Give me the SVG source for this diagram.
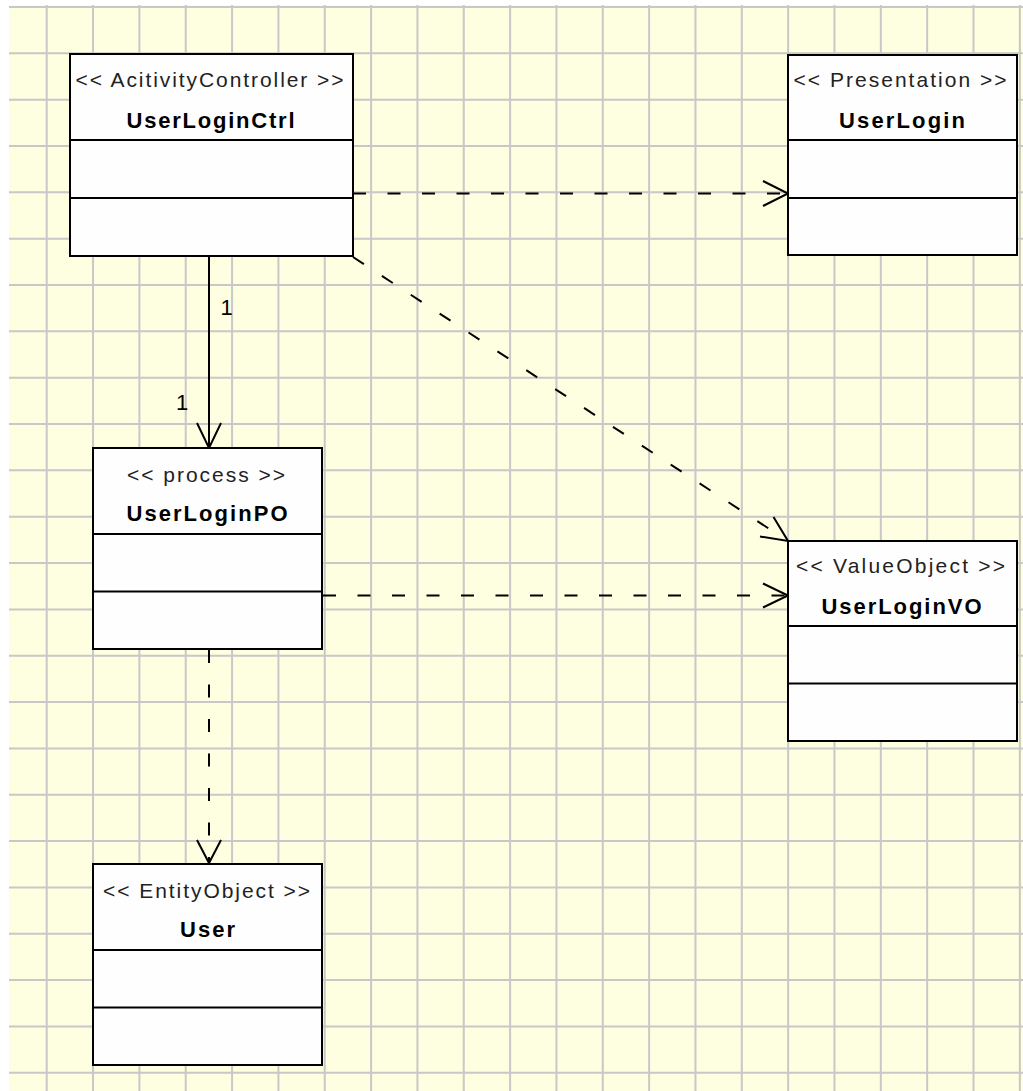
<svg xmlns="http://www.w3.org/2000/svg" width="1023" height="1091" viewBox="0 0 1023 1091">
<defs>
<style>
.grid{stroke:#c8c8c8;stroke-width:2;fill:none}
.box{fill:#fefefe;stroke:#000;stroke-width:2}
.div{stroke:#000;stroke-width:2}
.st{font-family:"Liberation Sans",Arial,sans-serif;font-size:21px;fill:#222;text-anchor:middle}
.nm{font-family:"Liberation Sans",Arial,sans-serif;font-size:22px;font-weight:bold;fill:#000;text-anchor:middle}
.dash{stroke:#000;stroke-width:2;stroke-dasharray:13 21.5;fill:none}
.solid{stroke:#000;stroke-width:2;fill:none}
.head{stroke:#000;stroke-width:2;fill:none}
.lbl{font-family:"Liberation Sans",Arial,sans-serif;font-size:22px;fill:#000;text-anchor:middle}
</style>
</defs>
<rect x="0" y="0" width="1023" height="1091" fill="#ffffff"/>
<rect x="9" y="5" width="1014" height="1086" fill="#fefee0"/>
<g id="grid" class="grid">
<path d="M46.7,5V1091M93.04,5V1091M139.38,5V1091M185.72,5V1091M232.06,5V1091M278.4,5V1091M324.74,5V1091M371.08,5V1091M417.42,5V1091M463.76,5V1091M510.1,5V1091M556.44,5V1091M602.78,5V1091M649.12,5V1091M695.46,5V1091M741.8,5V1091M788.14,5V1091M834.48,5V1091M880.82,5V1091M927.16,5V1091M973.5,5V1091M1019.84,5V1091"/>
<path d="M9,6.96H1023M9,53.3H1023M9,99.64H1023M9,145.98H1023M9,192.32H1023M9,238.66H1023M9,285H1023M9,331.34H1023M9,377.68H1023M9,424.02H1023M9,470.36H1023M9,516.7H1023M9,563.04H1023M9,609.38H1023M9,655.72H1023M9,702.06H1023M9,748.4H1023M9,794.74H1023M9,841.08H1023M9,887.42H1023M9,933.76H1023M9,980.1H1023M9,1026.44H1023M9,1072.78H1023"/>
</g>
<g id="connectors">
<line class="dash" x1="353" y1="193.5" x2="787" y2="193.5"/>
<path class="head" d="M763,181 L788,193.5 L763,206"/>
<line class="dash" x1="353" y1="257" x2="787" y2="540.5"/>
<path class="head" d="M760,536.5 L788,541 L773.5,517"/>
<line class="solid" x1="209" y1="256" x2="209" y2="447"/>
<path class="head" d="M197,423 L209,448 L221,423"/>
<text class="lbl" x="226.5" y="315">1</text>
<text class="lbl" x="182" y="410">1</text>
<line class="dash" x1="323" y1="595.5" x2="787" y2="595.5"/>
<path class="head" d="M763,583.5 L788,595.5 L763,607.5"/>
<line class="dash" x1="209" y1="650" x2="209" y2="862"/>
<path class="head" d="M197,840 L209,863 L221,840"/>
</g>
<g id="UserLoginCtrl">
<rect class="box" x="70" y="54" width="283" height="202"/>
<line class="div" x1="70" y1="140" x2="353" y2="140"/>
<line class="div" x1="70" y1="198" x2="353" y2="198"/>
<text class="st" x="209.5" y="87" textLength="268" lengthAdjust="spacing">&lt;&lt; AcitivityController &gt;&gt;</text>
<text class="nm" x="210.5" y="128" textLength="168" lengthAdjust="spacing">UserLoginCtrl</text>
</g>
<g id="UserLogin">
<rect class="box" x="788" y="55" width="229" height="200"/>
<line class="div" x1="788" y1="140" x2="1017" y2="140"/>
<line class="div" x1="788" y1="198" x2="1017" y2="198"/>
<text class="st" x="900" y="87" textLength="213" lengthAdjust="spacing">&lt;&lt; Presentation &gt;&gt;</text>
<text class="nm" x="902" y="127.5" textLength="126" lengthAdjust="spacing">UserLogin</text>
</g>
<g id="UserLoginPO">
<rect class="box" x="93" y="448" width="229" height="201"/>
<line class="div" x1="93" y1="534" x2="322" y2="534"/>
<line class="div" x1="93" y1="591.5" x2="322" y2="591.5"/>
<text class="st" x="206" y="481.5" textLength="158" lengthAdjust="spacing">&lt;&lt; process &gt;&gt;</text>
<text class="nm" x="207" y="521" textLength="161" lengthAdjust="spacing">UserLoginPO</text>
</g>
<g id="UserLoginVO">
<rect class="box" x="788" y="541" width="229" height="200"/>
<line class="div" x1="788" y1="626" x2="1017" y2="626"/>
<line class="div" x1="788" y1="683.5" x2="1017" y2="683.5"/>
<text class="st" x="900.5" y="573" textLength="209" lengthAdjust="spacing">&lt;&lt; ValueObject &gt;&gt;</text>
<text class="nm" x="901.5" y="613.5" textLength="160" lengthAdjust="spacing">UserLoginVO</text>
</g>
<g id="User">
<rect class="box" x="93" y="864" width="229" height="201"/>
<line class="div" x1="93" y1="950" x2="322" y2="950"/>
<line class="div" x1="93" y1="1007.5" x2="322" y2="1007.5"/>
<text class="st" x="206.5" y="898" textLength="207" lengthAdjust="spacing">&lt;&lt; EntityObject &gt;&gt;</text>
<text class="nm" x="207.5" y="937" textLength="55" lengthAdjust="spacing">User</text>
</g>
</svg>
